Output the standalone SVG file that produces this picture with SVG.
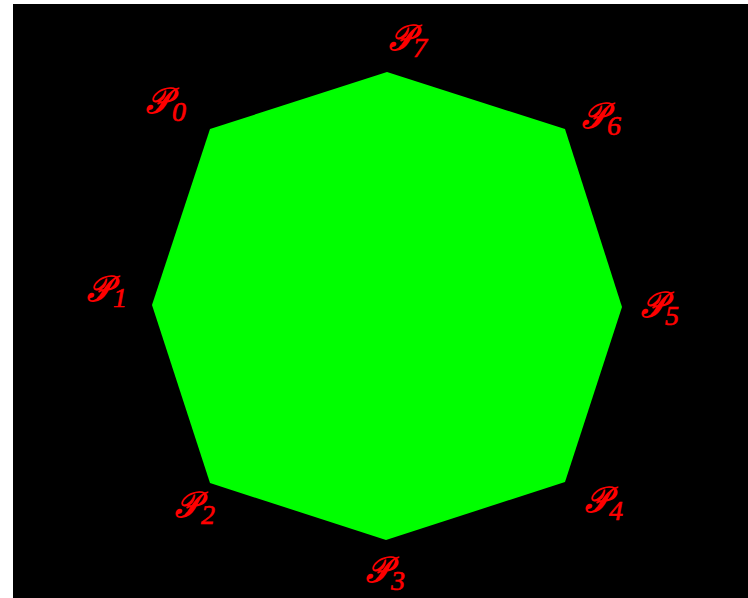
<svg xmlns="http://www.w3.org/2000/svg" width="748" height="598" viewBox="0 0 748 598">
<style>
.lbl{fill:#ff0000;font-family:"DejaVu Serif","Liberation Serif",serif;font-style:italic;font-weight:bold;font-size:36px}
.sub{fill:#ff0000;font-family:"Liberation Serif",serif;font-style:italic;font-size:28px;stroke:#ff0000;stroke-width:0.6}
</style>
<rect x="0" y="0" width="748" height="598" fill="#ffffff"/>
<rect x="13" y="4" width="735" height="594" fill="#000000"/>
<g id="octagon">
<polygon points="210,129 387,72 565,129 622,307 565,482 386,540 210,483 152,305" fill="#00ff00"/>
</g>
<g id="labels">
<g id="P0"><text class="lbl" x="146" y="113" textLength="24" lengthAdjust="spacingAndGlyphs">𝒫</text><text class="sub" x="172" y="121">0</text></g>
<g id="P1"><text class="lbl" x="87" y="301" textLength="24" lengthAdjust="spacingAndGlyphs">𝒫</text><text class="sub" x="113" y="307">1</text></g>
<g id="P2"><text class="lbl" x="175" y="517" textLength="24" lengthAdjust="spacingAndGlyphs">𝒫</text><text class="sub" x="201" y="524">2</text></g>
<g id="P3"><text class="lbl" x="366" y="582" textLength="24" lengthAdjust="spacingAndGlyphs">𝒫</text><text class="sub" x="391" y="590">3</text></g>
<g id="P4"><text class="lbl" x="585" y="512" textLength="24" lengthAdjust="spacingAndGlyphs">𝒫</text><text class="sub" x="609" y="520">4</text></g>
<g id="P5"><text class="lbl" x="641" y="317" textLength="24" lengthAdjust="spacingAndGlyphs">𝒫</text><text class="sub" x="665" y="325">5</text></g>
<g id="P6"><text class="lbl" x="582" y="128" textLength="24" lengthAdjust="spacingAndGlyphs">𝒫</text><text class="sub" x="607" y="135">6</text></g>
<g id="P7"><text class="lbl" x="389" y="50" textLength="24" lengthAdjust="spacingAndGlyphs">𝒫</text><text class="sub" x="413" y="57">7</text></g>
</g>
</svg>
